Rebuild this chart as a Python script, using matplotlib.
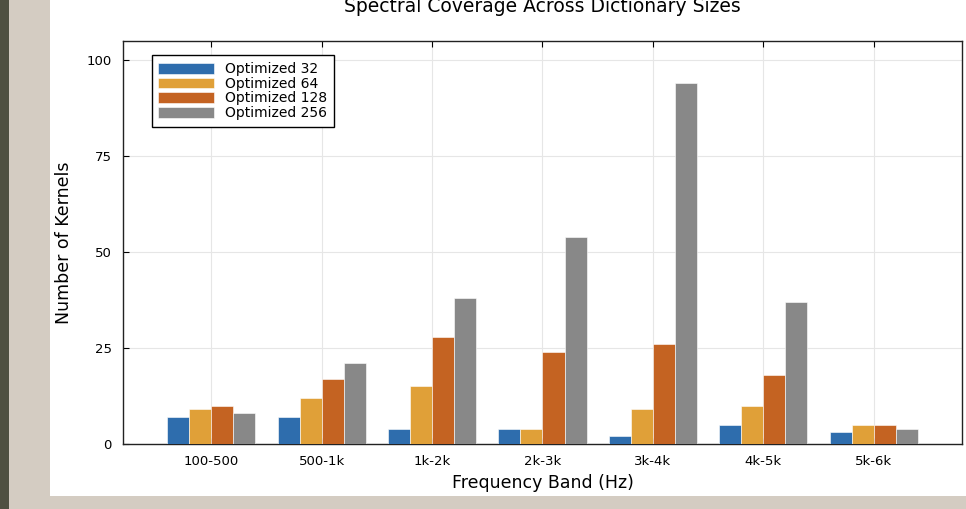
import numpy as np
import matplotlib.pyplot as plt
from matplotlib.patches import Rectangle

bands = ["100-500", "500-1k", "1k-2k", "2k-3k", "3k-4k", "4k-5k", "5k-6k"]
series_names = ["Optimized 32", "Optimized 64", "Optimized 128", "Optimized 256"]
opt32 = [7, 7, 4, 4, 2, 5, 3]
opt64 = [9, 12, 15, 4, 9, 10, 5]
opt128 = [10, 17, 28, 24, 26, 18, 5]
opt256 = [8, 21, 38, 54, 94, 37, 4]
colors = ["#2e6dad", "#e0a038", "#c46322", "#888888"]

fig = plt.figure(figsize=(9.66, 5.09), dpi=100)
fig.patch.set_facecolor("#d4ccc2")

# page background pieces around the figure
W, H = 966, 509
fig.patches.append(Rectangle((0, 0), 9 / W, 1, transform=fig.transFigure,
                             facecolor="#4f5041", edgecolor="none", zorder=-5))
fig.patches.append(Rectangle((50 / W, 13 / H), 1 - 50 / W, 1 - 13 / H,
                             transform=fig.transFigure,
                             facecolor="white", edgecolor="none", zorder=-5))

ax = fig.add_axes([123 / W, 65 / H, (962 - 123) / W, (444 - 41) / H])
ax.set_zorder(1)

x = np.arange(len(bands))
width = 0.2
for i, (vals, name) in enumerate(zip([opt32, opt64, opt128, opt256], series_names)):
    ax.bar(x + (i - 1.5) * width, vals, width, color=colors[i], label=name,
           edgecolor="white", linewidth=0.4, zorder=3)

ax.set_xlim(-0.8, 6.8)
ax.set_ylim(0, 105)
ax.set_xticks(x)
ax.set_xticklabels(bands, fontsize=9.5)
ax.set_yticks([0, 25, 50, 75, 100])
ax.tick_params(axis="y", labelsize=9.5)
ax.tick_params(direction="in", top=True, right=False, length=4, width=0.8, pad=8)
ax.grid(True, color="#e6e6e6", linewidth=0.8, zorder=0)
for s in ax.spines.values():
    s.set_color("#222222")
    s.set_linewidth(1.0)

ax.set_xlabel("Frequency Band (Hz)", fontsize=12.5, labelpad=4)
ax.set_ylabel("Number of Kernels", fontsize=12.5, labelpad=10)
fig.text(542 / W, 1 - 6 / H, "Spectral Coverage Across Dictionary Sizes",
         ha="center", va="center", fontsize=13.5)

leg = ax.legend(loc="upper left", bbox_to_anchor=(0.034, 0.965), fontsize=10,
                handlelength=4, handleheight=0.8, labelspacing=0.05,
                borderpad=0.5, fancybox=False, framealpha=1,
                edgecolor="black", borderaxespad=0)
leg.get_frame().set_linewidth(1.0)

fig.savefig("out.png", dpi=100, facecolor=fig.get_facecolor())
